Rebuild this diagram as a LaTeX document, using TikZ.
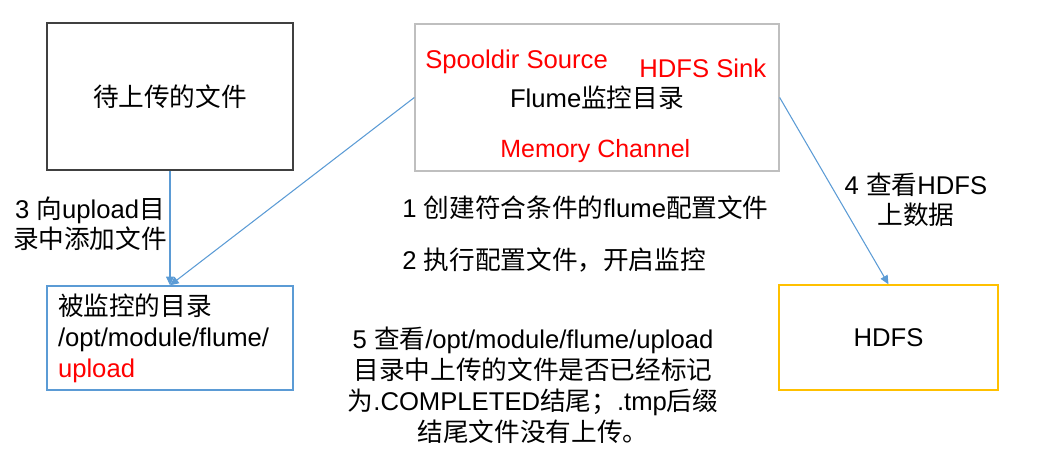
\documentclass[tikz,border=0pt]{standalone}
\usepackage{fontspec}
\setmainfont{Liberation Sans}
\newfontfamily\cjk{Noto Sans CJK SC}
\usetikzlibrary{arrows.meta}
\definecolor{flowblue}{HTML}{5B9BD5}
\definecolor{hdfsgold}{HTML}{FFC000}

\begin{document}
\begin{tikzpicture}[x=0.02cm, y=-0.02cm,
		box/.style={draw, line width=0.8pt, inner sep=0pt},
		txt/.style={inner sep=0pt, font=\fontsize{14.6}{17.6}\selectfont},
		flow/.style={draw=flowblue, line width=0.6pt, -{Triangle[length=5pt,width=4.5pt]}}]
		%%%%% START %%%%%
		
		\useasboundingbox (0, 0) rectangle (1046, 457);
		
		\node[box, draw=black!75, minimum width=4.92cm, minimum height=2.94cm, txt] (upfile) at (170, 96.5) {{\cjk 待上传的文件}};
		\node[box, draw=flowblue, txt, minimum height=2.08cm, inner xsep=0.22cm, text width=4.48cm, align=left] (watchdir) at (170, 338)
			{{\cjk 被监控的目录}\\/opt/module/flume/\\\textcolor{red}{upload}};
		
		\node[box, draw=black!25, minimum width=7.28cm, minimum height=2.94cm] (flume) at (597, 97.5) {};
		\node[txt] (flumelbl) at (597, 98) {Flume{\cjk 监控目录}};
		\node[txt, anchor=west, text=red] (source) at (425, 62) {Spooldir Source};
		\node[txt, anchor=west, text=red] (sink) at (639, 68) {HDFS Sink};
		\node[txt, anchor=west, text=red, font=\fontsize{14.2}{17}\selectfont] (channel) at (500, 151) {Memory Channel};
		
		\node[box, draw=hdfsgold, minimum width=4.38cm, minimum height=2.1cm, txt] (hdfs) at (888.5, 337.5) {HDFS};
		
		\draw[flow] (upfile) -- (watchdir);
		\draw[flow] (flume.west) -- (watchdir.north);
		\draw[flow] (flume.east) -- (hdfs.north);
		
		\node[txt, align=center, font=\fontsize{14.6}{17.2}\selectfont] (step3) at (90, 224) {3 {\cjk 向}upload{\cjk 目}\\{\cjk 录中添加文件}};
		\node[txt, align=center, font=\fontsize{14.6}{17.2}\selectfont] (step4) at (916, 200) {4 {\cjk 查看}HDFS\\{\cjk 上数据}};
		\node[txt, anchor=west] (step1) at (402, 208) {1 {\cjk 创建符合条件的}flume{\cjk 配置文件}};
		\node[txt, anchor=west] (step2) at (402, 260) {2 {\cjk 执行配置文件，开启监控}};
		\node[txt, align=center] (step5) at (533, 385)
			{5 {\cjk 查看}/opt/module/flume/upload\\{\cjk 目录中上传的文件是否已经标记}\\{\cjk 为}.COMPLETED{\cjk 结尾；}.tmp{\cjk 后缀}\\{\cjk 结尾文件没有上传。}};
		
		%%%%% END %%%%%
\end{tikzpicture}
\end{document}
